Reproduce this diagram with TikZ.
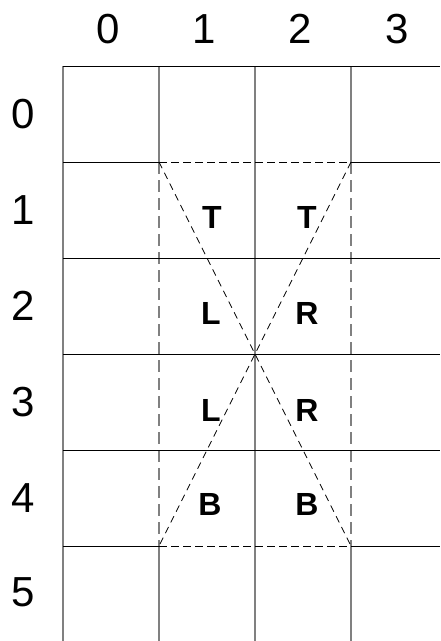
\documentclass[tikz,border=0pt]{standalone}
\usepackage{fontspec}
\setmainfont{Liberation Sans}
\begin{document}
\begin{tikzpicture}[x=1pt,y=-1pt,
  vline/.style={draw=black!50,line width=1.3pt},
  hline/.style={draw=black,line width=1pt},
  vdash/.style={draw=black!50,line width=1.3pt,dash pattern=on 12pt off 6pt},
  hdash/.style={draw=black,line width=1pt,dash pattern=on 8pt off 4pt},
  diag/.style={draw=black,line width=0.8pt,dash pattern=on 7pt off 5pt},
  idx/.style={inner sep=0pt,font=\fontsize{42}{42}\selectfont},
  lab/.style={inner sep=0pt,font=\fontsize{32}{32}\selectfont\bfseries}]
\useasboundingbox[fill=white] (0,0) rectangle (440,641);
% vertical lines
\draw[vline] (63,66) -- (63,641);
\draw[vline] (255,66) -- (255,641);
\draw[vline] (159,66) -- (159,162);
\draw[vline] (159,546) -- (159,641);
\draw[vline] (351,66) -- (351,162);
\draw[vline] (351,546) -- (351,641);
\draw[vdash] (159,162) -- (159,546);
\draw[vdash] (351,162) -- (351,546);
% horizontal lines
\draw[hline] (63,66) -- (440,66);
\draw[hline] (63,258) -- (440,258);
\draw[hline] (63,354) -- (440,354);
\draw[hline] (63,450) -- (440,450);
\draw[hline] (63,162) -- (159,162);
\draw[hline] (351,162) -- (440,162);
\draw[hline] (63,546) -- (159,546);
\draw[hline] (351,546) -- (440,546);
\draw[hdash] (159,162) -- (351,162);
\draw[hdash] (159,546) -- (351,546);
% diagonals
\coordinate (tl) at (159,162);
\coordinate (tr) at (351,162);
\coordinate (bl) at (159,546);
\coordinate (br) at (351,546);
\draw[diag] (tl) -- (br);
\draw[diag] (tr) -- (bl);
% column indices
\node[idx] (c0) at (108,29) {0};
\node[idx] (c1) at (204,29) {1};
\node[idx] (c2) at (300,29) {2};
\node[idx] (c3) at (397,29) {3};
% row indices
\node[idx] (r0) at (23,114) {0};
\node[idx] (r1) at (23,210) {1};
\node[idx] (r2) at (23,306) {2};
\node[idx] (r3) at (23,402) {3};
\node[idx] (r4) at (23,498) {4};
\node[idx] (r5) at (23,592) {5};
% letters
\node[lab] (t1) at (212,217) {T};
\node[lab] (t2) at (307,217) {T};
\node[lab] (l1) at (211,313) {L};
\node[lab] (r1l) at (307,313) {R};
\node[lab] (l2) at (211,410) {L};
\node[lab] (r2l) at (307,410) {R};
\node[lab] (b1) at (210,504) {B};
\node[lab] (b2) at (307,504) {B};
\end{tikzpicture}
\end{document}
